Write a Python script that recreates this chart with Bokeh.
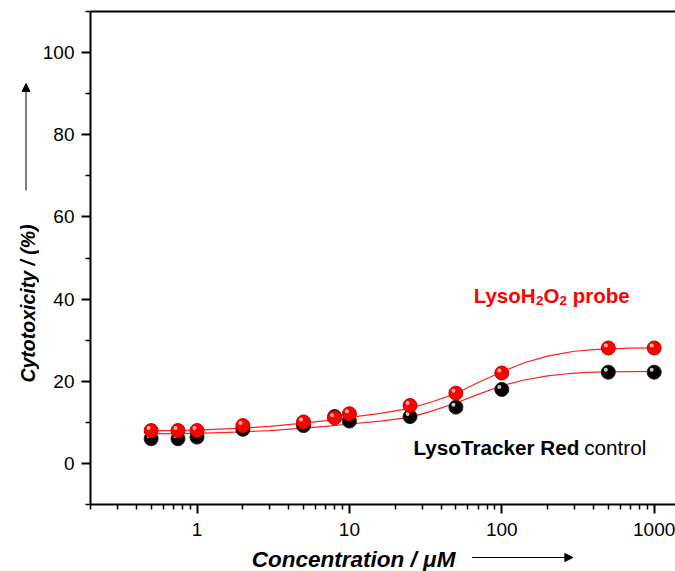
import math
from bokeh.plotting import figure
from bokeh.layouts import row, column
from bokeh.models import FixedTicker, LinearAxis, Label, Arrow, NormalHead, NumeralTickFormatter
from bokeh.embed import file_html
from bokeh.resources import INLINE

# ---------------- data ----------------
conc = [0.5, 0.75, 1, 2, 5, 8, 10, 25, 50, 100, 500, 1000]
probe = [8.0, 8.0, 8.0, 9.2, 10.1, 11.1, 12.1, 14.1, 17.1, 22.0, 28.1, 28.1]
control = [6.0, 6.0, 6.4, 8.3, 9.2, 11.4, 10.3, 11.4, 13.7, 18.0, 22.2, 22.2]

fit_conc = [0.5, 1, 2, 3, 5, 7, 10, 16, 25, 35, 50, 70, 100, 140, 200, 250, 300, 400, 500, 700, 1000]
probe_fit = [7.9, 8.1, 8.6, 9.0, 9.8, 10.4, 11.2, 12.2, 13.4, 15.0, 17.0, 19.7, 22.3, 24.5, 26.1, 26.8, 27.3, 27.7, 27.9, 28.05, 28.1]
control_fit = [7.2, 7.3, 7.7, 8.0, 8.6, 9.0, 9.6, 10.3, 11.2, 12.8, 14.7, 16.8, 18.9, 20.3, 21.3, 21.7, 22.0, 22.2, 22.3, 22.35, 22.4]

x_major = [1, 10, 100, 1000]
x_minor = [0.2, 0.3, 0.4, 0.5, 0.6, 0.7, 0.8, 0.9,
           2, 3, 4, 5, 6, 7, 8, 9,
           20, 30, 40, 50, 60, 70, 80, 90,
           200, 300, 400, 500, 600, 700, 800, 900]
y_major = [0, 20, 40, 60, 80, 100]
y_minor = [-10, 10, 30, 50, 70, 90, 110]

x_title = "Concentration / \u03bcM"
y_title = "Cytotoxicity / (%)"

# ---------------- layout (page pixels) ----------------
TOTAL_W, TOTAL_H = 675, 571
WY = 39                      # strip on the left for the y title
HP = 548                     # height of the main plot
X0, X1 = 0.2, 1380
Y0, Y1 = -10, 110
BL, BR, BT, BB = 88 - WY, 0, 11, 44
PW = TOTAL_W - WY
FW = PW - BL - BR
FH = HP - BT - BB
LX = math.log10(X1) - math.log10(X0)
BASE_FIX = 8.5               # alphabetic labels render lower than asked


def x_at(px):
    """page pixel -> data x on the main plot (log axis)"""
    cx = px - WY
    return 10 ** (math.log10(X0) + (cx - BL) / FW * LX)


def y_at(py):
    return Y1 - (py - BT) / FH * (Y1 - Y0)


FONT = "Liberation Sans"

p = figure(width=PW, height=HP, x_axis_type="log", x_range=(X0, X1), y_range=(Y0, Y1),
           output_backend="svg", toolbar_location=None,
           min_border_left=BL, min_border_right=BR, min_border_top=BT, min_border_bottom=BB)
p.outline_line_color = None
p.xgrid.visible = False
p.ygrid.visible = False

xa = p.below[0]
xa.ticker = FixedTicker(ticks=x_major, minor_ticks=x_minor)
xa.formatter = NumeralTickFormatter(format="0")
ya = p.left[0]
ya.ticker = FixedTicker(ticks=y_major, minor_ticks=y_minor)

for ax in (xa, ya):
    ax.axis_line_width = 2
    ax.axis_line_color = "black"
    ax.major_tick_line_width = 2
    ax.major_tick_line_color = "black"
    ax.minor_tick_line_width = 1.5
    ax.minor_tick_line_color = "black"
    ax.major_tick_out = 9
    ax.major_tick_in = 0
    ax.minor_tick_out = 5
    ax.minor_tick_in = 0
    ax.major_label_text_font = FONT
    ax.major_label_text_font_size = "19px"
    ax.major_label_text_color = "black"
xa.major_label_standoff = 9
ya.major_label_standoff = 7

top = LinearAxis(ticker=FixedTicker(ticks=[]), axis_line_width=2, axis_line_color="black",
                 major_tick_out=0, major_tick_in=0, minor_tick_out=0, minor_tick_in=0,
                 major_label_standoff=0, major_label_text_font_size="0px")
p.add_layout(top, "above")

# ---------------- fit curves ----------------
p.line(fit_conc, probe_fit, line_color="#ff2020", line_width=1.2)
p.line(fit_conc, control_fit, line_color="#ff2020", line_width=1.2)

# ---------------- data points (shaded balls) ----------------
dx = 10 ** (-2.5 / FW * LX)
dy = 2.5 / FH * (Y1 - Y0)

p.scatter(conc, control, size=14, fill_color="black", line_color="#202020", line_width=1)
p.scatter([c * dx for c in conc], [v + dy for v in control], size=4,
          fill_color="#c8c8c8", line_color=None)
p.scatter(conc, probe, size=14, fill_color="#ff0000", line_color="#c00000", line_width=1)
p.scatter([c * dx for c in conc], [v + dy for v in probe], size=4,
          fill_color="#ffb0b0", line_color=None)


# ---------------- texts inside the frame ----------------
def add_label(text, px, py, size, style="normal", color="black"):
    p.add_layout(Label(x=x_at(px), y=y_at(py - BASE_FIX), text=text, text_font=FONT,
                       text_font_size=f"{size}px", text_font_style=style,
                       text_color=color, text_align="left",
                       text_baseline="alphabetic"))


fs = 20.5
sub = 13.5
x0 = 472.5
base = 303.5
add_label("LysoH", x0, base, fs, "bold", "#ff0000")
x1 = x0 + 3.056 * fs
add_label("2", x1, base + 5, sub, "bold", "#ff0000")
x2 = x1 + 0.556 * sub
add_label("O", x2, base, fs, "bold", "#ff0000")
x3 = x2 + 0.778 * fs
add_label("2", x3, base + 5, sub, "bold", "#ff0000")
x4 = x3 + 0.556 * sub + 0.278 * fs
add_label("probe", x4, base, fs, "bold", "#ff0000")

fc = 20.7
add_label("LysoTracker Red", 412, 455, fc, "bold")
add_label("control", 412 + 8.0 * fc + 0.278 * fc, 455, fc, "normal")


# ---------------- side strips with the axis titles ----------------
def strip(w, h, xr, yr, left=0):
    f = figure(width=w, height=h, x_range=xr, y_range=yr,
               output_backend="svg", toolbar_location=None,
               x_axis_location=None, y_axis_location=None,
               min_border=0, min_border_left=left, min_border_right=0,
               min_border_top=0, min_border_bottom=0)
    f.outline_line_color = None
    f.grid.visible = False
    return f


# y title strip: page x 0..WY, local y = TOTAL_H - page y
fy = strip(WY, TOTAL_H, (0, WY), (0, TOTAL_H))
fy.add_layout(Label(x=27.5, y=TOTAL_H - 303, text=y_title, text_font=FONT,
                    text_font_size="19.5px", text_font_style="bold italic",
                    text_color="black", angle=math.pi / 2,
                    text_align="center", text_baseline="middle"))
fy.add_layout(Arrow(x_start=25.5, y_start=TOTAL_H - 190, x_end=25.5, y_end=TOTAL_H - 83,
                    line_width=1, line_color="black",
                    end=NormalHead(size=8, fill_color="black", line_color="black")))

# x title strip below the plot; its frame is aligned with the plot's frame,
# so its x range is given directly in page pixels (88 .. 675)
XH = TOTAL_H - HP
fx = strip(PW, XH, (WY + BL, TOTAL_W), (0, XH), left=BL)
fx.add_layout(Label(x=352, y=TOTAL_H - (567 - BASE_FIX), text=x_title, text_font=FONT,
                    text_font_size="22.5px", text_font_style="bold italic",
                    text_color="black", text_align="center",
                    text_baseline="alphabetic"))
fx.add_layout(Arrow(x_start=471, y_start=TOTAL_H - 557, x_end=572, y_end=TOTAL_H - 557,
                    line_width=1, line_color="black",
                    end=NormalHead(size=8, fill_color="black", line_color="black")))

layout = row(fy, column(p, fx, spacing=0), spacing=0)

open("out.html", "w").write(file_html(layout, INLINE))
